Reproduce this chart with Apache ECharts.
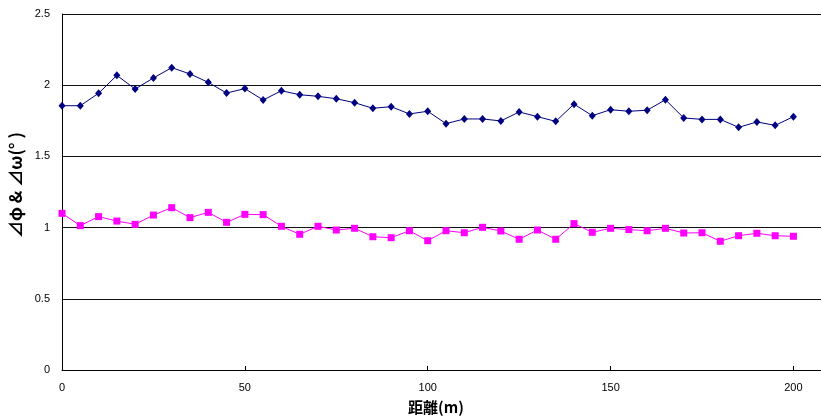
<!DOCTYPE html>
<html>
<head>
<meta charset="utf-8">
<script src="https://cdn.jsdelivr.net/npm/echarts@6/dist/echarts.min.js"></script>
<style>html,body{margin:0;padding:0;background:#fff}#c{width:821px;height:417px}</style>
</head>
<body>
<div id="c"></div>
<script>
const distances = [0,5,10,15,20,25,30,35,40,45,50,55,60,65,70,75,80,85,90,95,100,105,110,115,120,125,130,135,140,145,150,155,160,165,170,175,180,185,190,195,200];
const deltaPhi = [1.856,1.856,1.943,2.069,1.973,2.051,2.123,2.079,2.020,1.945,1.976,1.896,1.961,1.933,1.922,1.905,1.877,1.838,1.849,1.798,1.817,1.730,1.763,1.763,1.749,1.812,1.779,1.746,1.867,1.786,1.828,1.817,1.824,1.898,1.770,1.760,1.760,1.704,1.742,1.718,1.779];
const deltaOmega = [1.100,1.014,1.077,1.046,1.023,1.088,1.140,1.070,1.107,1.037,1.093,1.091,1.009,0.953,1.009,0.983,0.995,0.936,0.929,0.978,0.908,0.978,0.964,1.002,0.976,0.918,0.983,0.918,1.028,0.967,0.995,0.986,0.978,0.995,0.962,0.964,0.904,0.943,0.960,0.943,0.939];
const xTicks = [0,50,100,150,200];
const yTicks = [0,0.5,1,1.5,2,2.5];

const chart = echarts.init(document.getElementById('c'), null, {renderer:'canvas'});
const pairs = arr => distances.map((d,i)=>[d,arr[i]]);
chart.setOption({
  animation:false,
  backgroundColor:'#fff',
  grid:{left:62, top:14, right:-9, bottom:47, containLabel:false, outerBoundsMode:'none'},
  xAxis:{
    type:'value', min:0, max:210, interval:50,
    name:'距離(m)', nameLocation:'middle', nameGap:30,
    nameTextStyle:{fontFamily:'Noto Sans CJK JP', fontWeight:'bold', fontSize:15, color:'#000', padding:[0,20,0,0]},
    axisLine:{lineStyle:{color:'#000', width:1}},
    axisTick:{show:true, inside:true, length:4, lineStyle:{color:'#000'}},
    axisLabel:{showMaxLabel:false, color:'#000', fontSize:11, margin:12, fontFamily:'Liberation Sans Narrow, Liberation Sans, sans-serif',
      formatter:v=> xTicks.includes(v)? String(v):''},
    splitLine:{show:false}
  },
  yAxis:{
    type:'value', min:0, max:2.5, interval:0.5,
    name:'⊿φ & ⊿ω(° )', nameLocation:'middle', nameGap:36, nameRotate:90,
    nameTextStyle:{fontFamily:'Noto Sans CJK JP', fontWeight:'bold', fontSize:17, color:'#000', padding:[0,0,0,14]},
    axisLine:{show:true, lineStyle:{color:'#000', width:1}},
    axisTick:{show:false},
    axisLabel:{color:'#000', fontSize:11, margin:12, fontFamily:'Liberation Sans, Arial, sans-serif',
      formatter:v=> yTicks.includes(v)? String(v):''},
    splitLine:{show:true, lineStyle:{color:'#111', width:1}}
  },
  series:[
    {type:'line', data:pairs(deltaPhi), symbol:'diamond', symbolSize:[7,8],
      lineStyle:{color:'#000080', width:1}, itemStyle:{color:'#000080'}},
    {type:'line', data:pairs(deltaOmega), symbol:'rect', symbolSize:7,
      lineStyle:{color:'#ff00ff', width:1}, itemStyle:{color:'#ff00ff'}}
  ]
});
</script>
</body>
</html>
